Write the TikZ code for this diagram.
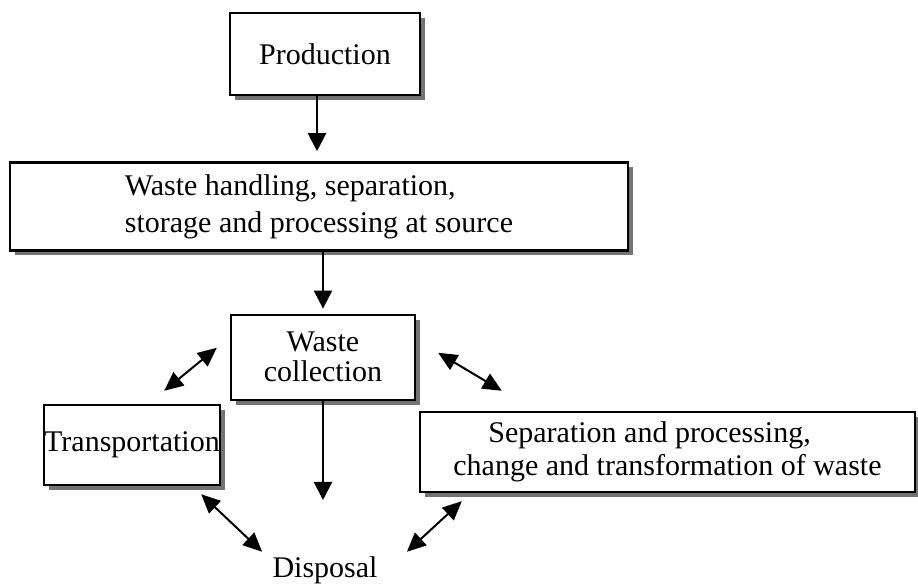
\documentclass[tikz,border=0pt]{standalone}
\usepackage{fontspec}
\setmainfont{Liberation Serif}
\usetikzlibrary{arrows.meta,positioning,shadows}

\begin{document}
\begin{tikzpicture}[
  x=0.5pt, y=-0.5pt,
  font=\fontsize{15}{17}\selectfont,
  line/.style={draw=black, line width=1.1pt, -{Triangle[length=9pt,width=9pt]}},
  dbl/.style={draw=black, line width=1pt, {Triangle[length=9.5pt,width=8.5pt]}-{Triangle[length=9.5pt,width=8.5pt]}},
  box/.style={draw=black, line width=1.2pt, fill=white, inner sep=0pt,
    drop shadow={shadow xshift=2.5pt, shadow yshift=-2.5pt, fill=black!55, opacity=1}}
]
\useasboundingbox (0,0) rectangle (918,588);

\node[box, minimum width=95pt, minimum height=41pt] (prod) at (325,54) {Production};

\node[box, minimum width=309pt, minimum height=44pt, align=left,
  font=\fontsize{15}{18.5}\selectfont, below=32.5pt of prod, xshift=-3pt] (hand)
  {Waste handling, separation,\\storage and processing at source};

\node[box, minimum width=92pt, minimum height=42.5pt, align=center,
  font=\fontsize{15}{15}\selectfont, below=31pt of hand, xshift=2pt] (coll)
  {Waste\\collection};

\node[box, minimum width=88pt, minimum height=40pt] (trans) at (132,445) {Transportation};

\node[box, minimum width=247.5pt, minimum height=40pt, align=left,
  font=\fontsize{15}{16.5}\selectfont] (sep) at (667.5,452)
  {\hspace*{17.5pt}Separation and processing,\\change and transformation of waste};

\node[anchor=base, inner sep=0pt] (disp) at (325,578) {Disposal};
\coordinate (drop) at (coll.south |- 0,500);

\draw[line, shorten >=5pt] ([xshift=-4pt]prod.south) -- ([xshift=-4pt]prod.south |- hand.north);
\draw[line, shorten >=2.5pt] (hand.south -| coll.north) -- (coll.north);
\draw[line] (coll.south) -- (drop);
\draw[dbl] ([shift={(-57,-13)}]trans.north east) -- ([shift={(-13,-9.5)}]coll.west);
\draw[dbl] ([shift={(22,-4.5)}]coll.east) -- ([shift={(83,-20)}]sep.north west);
\draw[dbl] ([shift={(-20,8)}]trans.south east) -- ([shift={(-10,-5)}]disp.north west);
\draw[dbl] ([shift={(43,8)}]sep.south west) -- ([shift={(29,-5)}]disp.north east);
\end{tikzpicture}
\end{document}
